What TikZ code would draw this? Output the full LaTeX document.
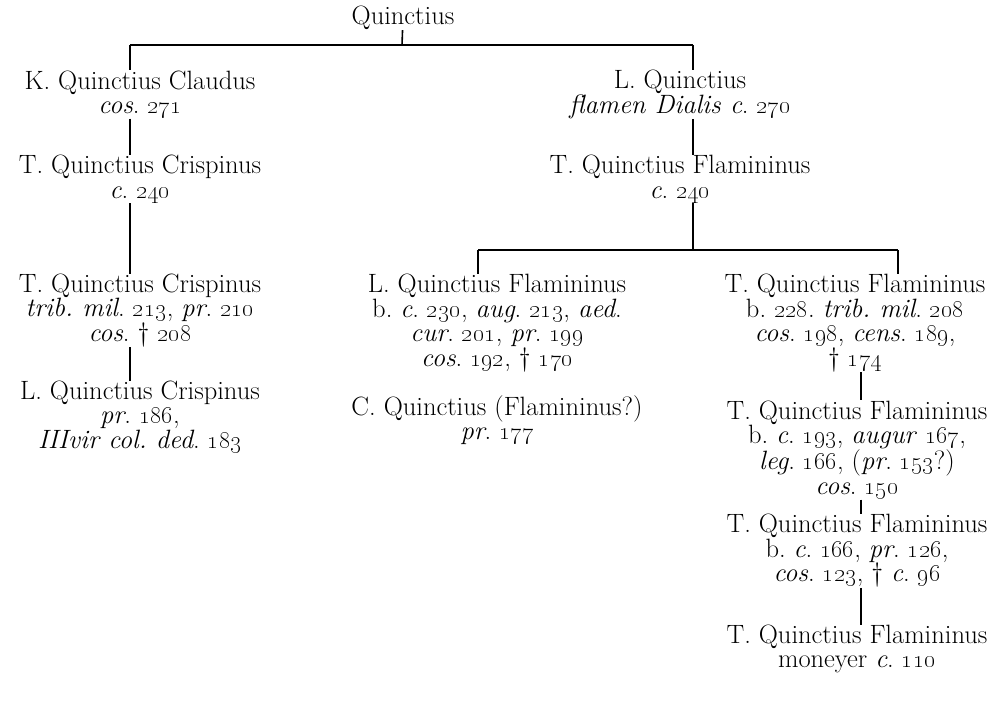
\documentclass[tikz,border=0pt]{standalone}
\usepackage{tikz}
\usetikzlibrary{positioning}
\newcommand{\yr}[1]{\oldstylenums{#1}}
\newcommand{\tit}[1]{\textit{#1}}
\frenchspacing

\begin{document}
\begin{tikzpicture}[
  x=1pt, y=-1pt,
  every node/.style={font=\fontsize{26.5}{24.5}\selectfont},
  person/.style={align=center, inner sep=0pt},
  link/.style={line width=1.6pt},
  bar/.style={line width=1.3pt},
]
\useasboundingbox (0,0) rectangle (996,706);

% first generation
\node[person] (root)   at (403,18)    {Quinctius};
\node[person] (kclaud) at (140,94.5)  {K. Quinctius Claudus\\\tit{cos}. \yr{271}};
\node[person] (lquin)  at (680,94.5)  {L. Quinctius\\\tit{flamen Dialis c}. \yr{270}};

% Crispini
\node[person] (tcrispa) at (140,179)  {T. Quinctius Crispinus\\\tit{c}. \yr{240}};
\node[person] (tcrispb) at (140,310.5) {T. Quinctius Crispinus\\\tit{trib. mil}. \yr{213}, \tit{pr}. \yr{210}\\\tit{cos}. \dag\ \yr{208}};
\node[person] (lcrisp)  at (140,417)  {L. Quinctius Crispinus\\\tit{pr}. \yr{186},\\\tit{IIIvir col. ded}. \yr{183}};

% Flaminini
\node[person] (tflama) at (680,179)   {T. Quinctius Flamininus\\\tit{c}. \yr{240}};
\node[person] (lflam)  at (497,323)   {L. Quinctius Flamininus\\b. \tit{c}. \yr{230}, \tit{aug}. \yr{213}, \tit{aed}.\\\tit{cur}. \yr{201}, \tit{pr}. \yr{199}\\\tit{cos}. \yr{192}, \dag\ \yr{170}};
\node[person] (cquin)  at (497,420)   {C. Quinctius (Flamininus?)\\\tit{pr}. \yr{177}};
\node[person] (tflamb) at (855,323)   {T. Quinctius Flamininus\\b. \yr{228}. \tit{trib. mil}. \yr{208}\\\tit{cos}. \yr{198}, \tit{cens}. \yr{189},\\\dag\ \yr{174}};
\node[person] (tflamc) at (857,450)   {T. Quinctius Flamininus\\b. \tit{c}. \yr{193}, \tit{augur} \yr{167},\\\tit{leg}. \yr{166}, (\tit{pr}. \yr{153}?)\\\tit{cos}. \yr{150}};
\node[person] (tflamd) at (857,551)   {T. Quinctius Flamininus\\b. \tit{c}. \yr{166}, \tit{pr}. \yr{126},\\\tit{cos}. \yr{123}, \dag\ \tit{c}. \yr{96}};
\node[person] (tflame) at (857,649)   {T. Quinctius Flamininus\\moneyer \tit{c}. \yr{110}};

% bars
\coordinate (top)  at (402,45);
\coordinate (topl) at (130,45);
\coordinate (topr) at (693,45);
\coordinate (mid)  at (693,250);
\coordinate (midl) at (478,250);
\coordinate (midr) at (898,250);
\coordinate (low)  at (861,0);

\draw[bar] (topl) -- (topr);
\draw[bar] (midl) -- (midr);

\draw[link] (root) -- (top);
\draw[link] (topl) -- (kclaud.north -| topl);
\draw[link] (topr) -- (lquin.north -| topr);
\draw[link] (kclaud.south -| topl) -- (tcrispa.north -| topl);
\draw[link] (tcrispa.south -| topl) -- (tcrispb.north -| topl);
\draw[link] (tcrispb.south -| topl) -- (lcrisp.north -| topl);
\draw[link] (lquin.south -| topr) -- (tflama.north -| topr);
\draw[link] (tflama.south -| mid) -- (mid);
\draw[link] (midl) -- (lflam.north -| midl);
\draw[link] (midr) -- (tflamb.north -| midr);
\draw[link] (tflamb.south -| low) -- (tflamc.north -| low);
\draw[link] (tflamc.south -| low) -- (tflamd.north -| low);
\draw[link] (tflamd.south -| low) -- (tflame.north -| low);

\end{tikzpicture}
\end{document}
